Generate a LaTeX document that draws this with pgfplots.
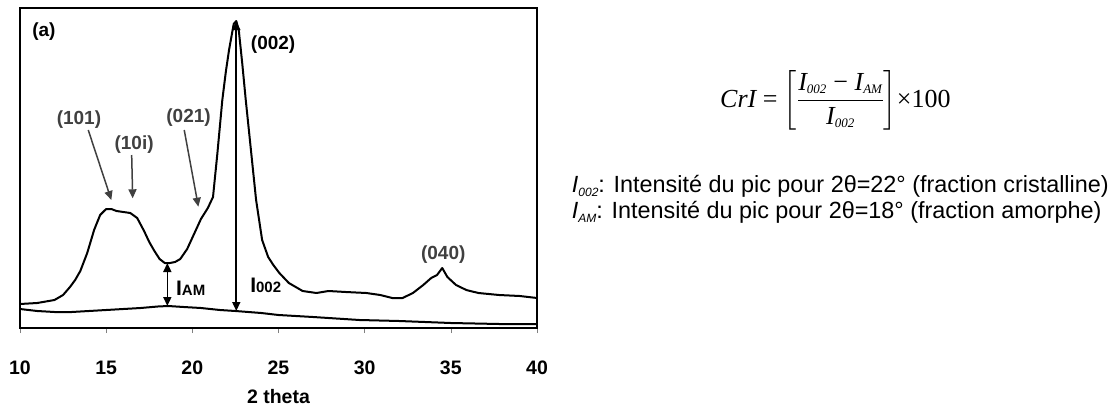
\documentclass[border=0pt]{standalone}
\usepackage{fontspec}
\setmainfont{Liberation Sans}
\newfontfamily\serif{Liberation Serif}
\usepackage{amsmath}
\usepackage{pgfplots}
\pgfplotsset{compat=1.18}
\usetikzlibrary{arrows.meta}

\pgfplotstableread{
x y
10 25
11 26
12 29
12.5 34
12.9 42
13.2 49
13.5 58
13.9 76
14.3 99
14.65 114
15.0 120
15.3 120
15.6 118
16.0 117
16.4 116
16.8 111
17.2 98
17.5 87
17.8 78
18.1 70
18.4 66
18.7 66
19.0 67
19.3 70
19.7 80
20.1 95
20.5 110
20.9 121
21.2 132
21.45 175
21.74 229
21.95 258
22.13 279
22.4 305
22.55 308
22.7 298
22.9 265
23.1 229
23.4 179
23.7 129
24.05 89
24.4 72
24.7 64
25.05 56
25.6 46
26.4 38
27.2 36
27.9 38
28.9 37
30.1 36
30.9 34
31.6 31
32.2 31
32.8 36
33.4 44
33.86 51
34.2 54
34.5 61
34.8 52
35.3 44
35.9 39
36.6 36
37.8 34
39 33
40 31
}\maintable

\pgfplotstableread{
x y
10 20
11 18
12 17
13 17
14 18
15 19
16 20
17 21
18 22.5
18.6 23
19.5 22
20.5 21
21.6 19
22.5 18
24 16
25 14
27 12
29.7 9
32 8
35 6
37.8 5
40 5
}\amtable

\begin{document}
\begin{tikzpicture}
\path[use as bounding box] (-20pt,-80pt) rectangle (1099pt,328pt);
\begin{axis}[
  at={(0pt,0pt)}, anchor=south west,
  scale only axis, width=517pt, height=320pt,
  xmin=10, xmax=40, ymin=1, ymax=321,
  xtick={10,15,...,40}, ytick=\empty,
  axis line style={line width=2pt},
  tick align=outside, xtick pos=bottom, major tick length=5pt,
  every tick/.style={black!50, line width=0.6pt},
  /pgf/number format/assume math mode=true,
  xticklabel style={font=\fontsize{19.5}{21}\selectfont\bfseries, anchor=center, yshift=-35pt},
  xlabel={2 theta},
  xlabel style={font=\fontsize{19.5}{21}\selectfont\bfseries, at={(axis description cs:0.5,0)}, anchor=center, yshift=-69pt},
  clip=false,
]
\addplot[black, line width=2pt, line join=round] table[x=x,y=y] {\maintable};
\addplot[black, line width=2pt, line join=round] table[x=x,y=y] {\amtable};

% intensity arrows
\draw[line width=1.6pt, {Triangle[length=9pt,width=8pt]}-{Triangle[length=9pt,width=8pt]}] (axis cs:18.55,66) -- (axis cs:18.55,23);
\draw[line width=1.6pt, {Triangle[length=9pt,width=8pt]}-{Triangle[length=9pt,width=8pt]}] (axis cs:22.55,308) -- (axis cs:22.55,18);

% peak label arrows
\draw[black!75, line width=1.5pt, -{Triangle[length=9pt,width=8pt]}] (axis cs:13.96,199) -- (axis cs:15.3,129);
\draw[black!75, line width=1.5pt, -{Triangle[length=9pt,width=8pt]}] (axis cs:16.48,174) -- (axis cs:16.54,130.7);
\draw[black!75, line width=1.5pt, -{Triangle[length=9pt,width=8pt]}] (axis cs:19.53,199) -- (axis cs:20.35,122.3);

\tikzset{lab/.style={font=\fontsize{19}{21}\selectfont\bfseries, inner sep=0pt}}
\node[lab, anchor=center] at (axis cs:11.39,297.3) {(a)};
\node[lab, anchor=west] at (axis cs:23.39,284) {(002)};
\node[lab, text=black!75, anchor=center] at (axis cs:13.42,209) {(101)};
\node[lab, text=black!75, anchor=center] at (axis cs:16.62,184) {(10i)};
\node[lab, text=black!75, anchor=center] at (axis cs:19.78,211.7) {(021)};
\node[lab, text=black!75, anchor=center] at (axis cs:34.56,74) {(040)};
\node[lab, anchor=base west] at (axis cs:19.05,34) {\fontsize{21}{21}\selectfont I\fontsize{15}{15}\selectfont AM};
\node[lab, anchor=base west] at (axis cs:23.35,37) {\fontsize{21}{21}\selectfont I\fontsize{15}{15}\selectfont 002};
\end{axis}

% formula
\node[anchor=base west, inner sep=0pt, font=\fontsize{26}{28}\selectfont] at (700pt,221pt)
 {\serif\itshape CrI\upshape\ = $\left[\dfrac{\mbox{\serif\itshape I}_{\mbox{\serif\itshape\fontsize{13}{13}\selectfont 002}}\mbox{\serif\ −\ }\mbox{\serif\itshape I}_{\mbox{\serif\itshape\fontsize{13}{13}\selectfont AM}}}{\mbox{\serif\itshape I}_{\mbox{\serif\itshape\fontsize{13}{13}\selectfont 002}}}\right]$\serif×100};

% definitions
\node[anchor=base west, inner sep=0pt, font=\fontsize{23.4}{26}\selectfont] at (551.7pt,136pt)
 {\textit{I}\raisebox{-4pt}{\fontsize{12}{12}\selectfont\itshape 002}: Intensité du pic pour 2θ=22° (fraction cristalline)};
\node[anchor=base west, inner sep=0pt, font=\fontsize{23.4}{26}\selectfont] at (551.7pt,110pt)
 {\textit{I}\raisebox{-4pt}{\fontsize{12}{12}\selectfont\itshape AM}: Intensité du pic pour 2θ=18° (fraction amorphe)};
\end{tikzpicture}
\end{document}
